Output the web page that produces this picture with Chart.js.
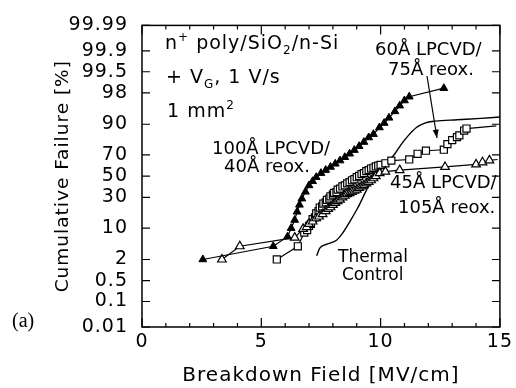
<!DOCTYPE html>
<html>
<head>
<meta charset="utf-8">
<script src="https://cdn.jsdelivr.net/npm/chart.js@4/dist/chart.umd.min.js"></script>
<style>
  html, body { margin: 0; padding: 0; background: #fff; }
</style>
</head>
<body>
<canvas id="breakdownChart" width="516" height="388"></canvas>
<script>
// probability axis labels (percent) and field axis labels
const failureTicks = [0.01, 0.1, 0.5, 2, 10, 30, 50, 70, 90, 98, 99.5, 99.9, 99.99];
const fieldTicks = [0, 5, 10, 15];

// 100A LPCVD / 40A reox. (filled triangles)
const reox40Field = [2.55, 5.5, 6.1, 6.25, 6.4, 6.5, 6.6, 6.7, 6.85, 7.0, 7.15, 7.3, 7.5, 7.7, 7.9, 8.1,
  8.3, 8.5, 8.7, 8.9, 9.1, 9.3, 9.5, 9.7, 9.95, 10.15, 10.35, 10.6, 10.8, 11.0, 11.2, 12.65];
const reox40Fail = [2.0, 4.2, 6.8, 10, 14, 19, 24, 29, 35, 41, 45, 49, 53, 56, 59, 62,
  65, 68, 71, 74, 77, 80, 83, 85, 88.5, 90.5, 92.5, 94.5, 95.9, 96.9, 97.5, 98.5];

// 45A LPCVD / 105A reox. (open triangles)
const reox105Field = [3.35, 4.1, 6.4, 6.75, 6.9, 7.0, 7.15, 7.3, 7.42, 7.57, 7.7, 7.8, 7.9, 8.0, 8.1,
  8.2, 8.3, 8.4, 8.5, 8.6, 8.7, 8.8, 8.9, 9.0, 9.1, 9.2, 9.3, 9.4, 9.5, 9.6, 9.7, 9.8, 9.96,
  10.2, 10.8, 12.7, 14.0, 14.27, 14.56, 14.9];
const reox105Fail = [2.0, 4.2, 6.5, 9.7, 10.5, 12, 13.2, 15, 16, 17.5, 19.5, 21, 22.2, 24, 25.5,
  27, 28.2, 30, 31.5, 33, 33.8, 35, 36, 37, 38.6, 40, 41.2, 43, 44.5, 46, 48, 50, 53,
  54.5, 56, 59, 61.5, 63.4, 65.2, 66];

// 60A LPCVD / 75A reox. (open squares)
const reox75Field = [5.65, 6.53, 6.8, 6.92, 7.0, 7.08, 7.15, 7.25, 7.3, 7.4, 7.45, 7.55, 7.6, 7.7,
  7.75, 7.85, 7.9, 8.0, 8.05, 8.15, 8.2, 8.3, 8.4, 8.5, 8.6, 8.7, 8.8, 8.9, 9.0, 9.1, 9.2, 9.3,
  9.4, 9.5, 9.6, 9.7, 9.8, 9.9, 10.0, 10.2, 10.45, 11.2, 11.55, 11.9, 12.65, 12.8, 13.0, 13.2,
  13.3, 13.5, 13.6, 14.85];
const reox75Fail = [2.0, 4.2, 8.2, 9.2, 11, 12, 14.5, 15.5, 18, 19.5, 22, 22.8, 25, 26, 28, 29,
  31, 32.5, 34, 34.8, 37, 38, 40, 41, 43, 44.2, 46, 47, 49, 50.2, 52, 53, 55, 56, 57.5, 58.2,
  59.5, 60.2, 61, 62.5, 65, 66, 71, 73.5, 74.3, 78.6, 81.3, 83.2, 84.3, 87, 88, 89.3];

// thermal control (line only)
const thermalField = [7.32, 7.45, 7.75, 8.15, 8.4, 8.7, 9.05, 9.35, 9.62, 9.95, 10.3, 10.6, 10.85,
  11.15, 11.5, 11.85, 12.3, 13.2, 14.2, 15.0];
const thermalFail = [2.5, 3.8, 4.7, 5.7, 7.9, 12.9, 22, 34, 46, 57, 64, 71, 78,
  84, 88.5, 90.5, 91.3, 91.8, 92.3, 92.8];

// inverse normal CDF (Acklam) - probability paper axis
function probit(p) {
  const a = [-39.69683028665376, 220.9460984245205, -275.9285104469687, 138.3577518672690, -30.66479806614716, 2.506628277459239];
  const b = [-54.47609879822406, 161.5858368580409, -155.6989798598866, 66.80131188771972, -13.28068155288572];
  const c = [-0.007784894002430293, -0.3223964580411365, -2.400758277161838, -2.549732539343734, 4.374664141464968, 2.938163982698783];
  const d = [0.007784695709041462, 0.3224671290700398, 2.445134137142996, 3.754408661907416];
  const pl = 0.02425;
  let q, r;
  if (p < pl) {
    q = Math.sqrt(-2 * Math.log(p));
    return (((((c[0]*q+c[1])*q+c[2])*q+c[3])*q+c[4])*q+c[5]) / ((((d[0]*q+d[1])*q+d[2])*q+d[3])*q+1);
  }
  if (p > 1 - pl) {
    q = Math.sqrt(-2 * Math.log(1 - p));
    return -(((((c[0]*q+c[1])*q+c[2])*q+c[3])*q+c[4])*q+c[5]) / ((((d[0]*q+d[1])*q+d[2])*q+d[3])*q+1);
  }
  q = p - 0.5;
  r = q * q;
  return (((((a[0]*r+a[1])*r+a[2])*r+a[3])*r+a[4])*r+a[5])*q / (((((b[0]*r+b[1])*r+b[2])*r+b[3])*r+b[4])*r+1);
}

function toPoints(fields, fails) {
  return fields.map(function(x, i) {
    return { x: x, y: probit(fails[i] / 100) };
  });
}

// no marker on the trailing segment that runs to the frame
function radiusExceptLast(r) {
  return function(ctx) {
    return ctx.dataIndex === ctx.dataset.data.length - 1 ? 0 : r;
  };
}

const FONT = "'DejaVu Sans', sans-serif";

function richText(ctx, parts, x, y, size) {
  let cx = x;
  parts.forEach(function(p) {
    let fs = size, dy = 0;
    if (p[1] === 'sup') { fs = Math.round(size * 0.65); dy = -size * 0.42; }
    if (p[1] === 'sub') { fs = Math.round(size * 0.65); dy = size * 0.28; }
    ctx.font = fs + 'px ' + FONT;
    ctx.fillText(p[0], cx, y + dy);
    cx += ctx.measureText(p[0]).width;
  });
}

// the scanned lettering is a bit wider than DejaVu, open it up slightly
const spacingPlugin = {
  id: 'spacing',
  beforeDraw(chart) { chart.ctx.letterSpacing = '1px'; },
  afterDraw(chart) { chart.ctx.letterSpacing = '0px'; }
};

const framePlugin = {
  id: 'frame',
  afterDatasetsDraw(chart) {
    const ctx = chart.ctx;
    const { left, right, top, bottom } = chart.chartArea;
    const xs = chart.scales.x, ys = chart.scales.y;
    ctx.save();
    ctx.strokeStyle = '#000';
    ctx.fillStyle = '#000';
    ctx.lineWidth = 1.5;
    ctx.strokeRect(left, top, right - left, bottom - top);

    // inward tick marks on all four sides
    ctx.lineWidth = 1.2;
    ctx.beginPath();
    for (let v = 0; v <= 15; v++) {
      const px = xs.getPixelForValue(v);
      const len = v % 5 === 0 ? 9 : 4;
      ctx.moveTo(px, bottom); ctx.lineTo(px, bottom - len);
      ctx.moveTo(px, top); ctx.lineTo(px, top + len);
    }
    failureTicks.forEach(function(p) {
      const py = ys.getPixelForValue(probit(p / 100));
      ctx.moveTo(left, py); ctx.lineTo(left + 8, py);
      ctx.moveTo(right, py); ctx.lineTo(right - 8, py);
    });
    ctx.stroke();

    // annotations
    ctx.textBaseline = 'alphabetic';
    ctx.textAlign = 'left';
    ctx.letterSpacing = '1px';
    richText(ctx, [['n', 'n'], ['+', 'sup'], [' poly/SiO', 'n'], ['2', 'sub'], ['/n-Si', 'n']], 165, 49, 19);
    richText(ctx, [['+ V', 'n'], ['G', 'sub'], [', 1 V/s', 'n']], 166, 83, 19);
    richText(ctx, [['1 mm', 'n'], ['2', 'sup']], 167, 117, 19);
    ctx.letterSpacing = '0px';

    ctx.font = '18px ' + FONT;
    ctx.fillText('100Å LPCVD/', 212, 154);
    ctx.fillText('40Å reox.', 224, 172);
    ctx.fillText('60Å LPCVD/', 375, 55);
    ctx.fillText('75Å reox.', 388, 75);
    ctx.fillText('45Å LPCVD/', 390, 188);
    ctx.fillText('105Å reox.', 398, 213);
    ctx.font = '17px ' + FONT;
    ctx.fillText('Thermal', 338, 262);
    ctx.fillText('Control', 342, 280);

    ctx.font = "20px 'Liberation Serif', serif";
    ctx.fillText('(a)', 12, 327);

    // arrow to the 60A curve
    const ax0 = 427, ay0 = 76, ax1 = 437, ay1 = 138;
    ctx.lineWidth = 1.2;
    ctx.beginPath();
    ctx.moveTo(ax0, ay0);
    ctx.lineTo(ax1, ay1);
    ctx.stroke();
    const ang = Math.atan2(ay1 - ay0, ax1 - ax0);
    ctx.beginPath();
    ctx.moveTo(ax1, ay1);
    ctx.lineTo(ax1 - 9 * Math.cos(ang - 0.35), ay1 - 9 * Math.sin(ang - 0.35));
    ctx.lineTo(ax1 - 9 * Math.cos(ang + 0.35), ay1 - 9 * Math.sin(ang + 0.35));
    ctx.closePath();
    ctx.fill();
    ctx.restore();
  }
};

const canvas = document.getElementById('breakdownChart');

new Chart(canvas, {
  type: 'scatter',
  data: {
    datasets: [
      {
        label: '100Å LPCVD/40Å reox.',
        data: toPoints(reox40Field, reox40Fail),
        showLine: true,
        borderColor: '#000',
        backgroundColor: '#000',
        borderWidth: 1.2,
        pointStyle: 'triangle',
        pointRadius: 4.5,
        pointBorderWidth: 1
      },
      {
        label: '45Å LPCVD/105Å reox.',
        data: toPoints(reox105Field, reox105Fail),
        showLine: true,
        borderColor: '#000',
        backgroundColor: '#fff',
        borderWidth: 1.2,
        pointStyle: 'triangle',
        pointRadius: radiusExceptLast(5),
        pointBorderWidth: 1.2
      },
      {
        label: '60Å LPCVD/75Å reox.',
        data: toPoints(reox75Field, reox75Fail),
        showLine: true,
        borderColor: '#000',
        backgroundColor: '#fff',
        borderWidth: 1.2,
        pointStyle: 'rect',
        pointRadius: radiusExceptLast(5),
        pointBorderWidth: 1.2
      },
      {
        label: 'Thermal Control',
        data: toPoints(thermalField, thermalFail),
        showLine: true,
        borderColor: '#000',
        backgroundColor: '#000',
        borderWidth: 1.4,
        pointRadius: 0,
        cubicInterpolationMode: 'monotone'
      }
    ]
  },
  options: {
    responsive: false,
    animation: false,
    devicePixelRatio: 1,
    layout: { padding: { top: 14, right: 15, left: 0, bottom: 0 } },
    plugins: {
      legend: { display: false },
      tooltip: { enabled: false }
    },
    scales: {
      x: {
        type: 'linear',
        min: 0,
        max: 15,
        afterBuildTicks: function(scale) {
          scale.ticks = fieldTicks.map(function(v) { return { value: v }; });
        },
        afterFit: function(scale) { scale.height = 61; },
        grid: { display: false, drawTicks: false },
        border: { display: false },
        ticks: { color: '#000', font: { family: FONT, size: 19 }, padding: 4, maxRotation: 0 },
        title: {
          display: true,
          text: 'Breakdown Field [MV/cm]',
          color: '#000',
          font: { family: FONT, size: 20 },
          padding: { top: 4, bottom: 0 }
        }
      },
      y: {
        type: 'linear',
        min: probit(0.0001),
        max: probit(0.9999),
        afterBuildTicks: function(scale) {
          scale.ticks = failureTicks.map(function(p) { return { value: probit(p / 100) }; });
        },
        afterFit: function(scale) { scale.width = 142; },
        grid: { display: false, drawTicks: false },
        border: { display: false },
        ticks: {
          color: '#000',
          font: { family: FONT, size: 19 },
          padding: 14,
          autoSkip: false,
          callback: function(value, index) { return String(failureTicks[index]); }
        },
        title: {
          display: true,
          text: 'Cumulative Failure [%]',
          color: '#000',
          font: { family: FONT, size: 18.5 },
          padding: { top: 52, bottom: 0 }
        }
      }
    }
  },
  plugins: [spacingPlugin, framePlugin]
});
</script>
</body>
</html>
